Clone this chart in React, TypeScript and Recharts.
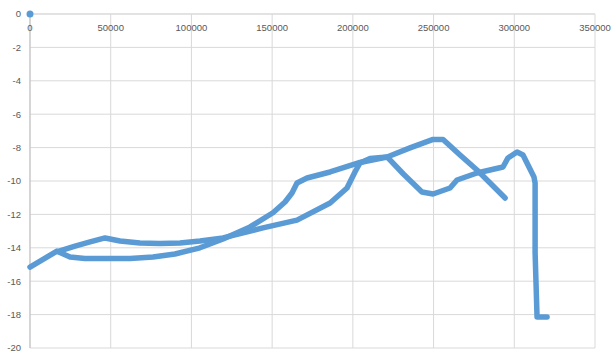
import React from 'react';
import { ScatterChart, Scatter, XAxis, YAxis, CartesianGrid } from 'recharts';

const xTicks = [0, 50000, 100000, 150000, 200000, 250000, 300000, 350000];
const yTicks = [0, -2, -4, -6, -8, -10, -12, -14, -16, -18, -20];

const originPoint = [{ x: 0, y: 0 }];

const pathLowerX = [0, 16700, 24800, 34000, 45200, 62000, 76200, 89800, 105300, 119600, 136300, 150500, 158000, 162300, 165400, 171600, 185900, 204400, 221200, 231300, 242800, 249700, 260200, 264500, 276900, 293000, 296100, 301700, 305400, 312200, 312900, 312900, 314100, 320300];
const pathLowerY = [-15.15, -14.2, -14.55, -14.64, -14.64, -14.64, -14.55, -14.37, -14.0, -13.47, -12.75, -11.9, -11.26, -10.72, -10.12, -9.82, -9.46, -8.89, -8.56, -9.58, -10.66, -10.78, -10.42, -9.94, -9.52, -9.16, -8.62, -8.26, -8.44, -9.76, -10.12, -14.3, -18.14, -18.14];

const pathUpperX = [18000, 27900, 37200, 46500, 55800, 68100, 80500, 92900, 105300, 119600, 144300, 165400, 185900, 196400, 201300, 204400, 210600, 221200, 235400, 249700, 255900, 266400, 276900, 285000, 294300];
const pathUpperY = [-14.2, -13.9, -13.65, -13.41, -13.59, -13.71, -13.74, -13.71, -13.59, -13.41, -12.81, -12.34, -11.32, -10.42, -9.46, -8.92, -8.65, -8.56, -8.02, -7.51, -7.51, -8.44, -9.34, -10.12, -11.02];

const toPoints = (xs: number[], ys: number[]) => xs.map((x, i) => ({ x, y: ys[i] }));
const lowerData = toPoints(pathLowerX, pathLowerY);
const upperData = toPoints(pathUpperX, pathUpperY);

const BLUE = '#5B9BD5';
const FONT = '"Liberation Sans", Arial, sans-serif';

const XTick = (props: any) => {
  const { x, y, payload } = props;
  return (
    <text x={x} y={y + 17} textAnchor="middle" fill="#595959" fontSize={9.5} fontFamily={FONT}>
      {payload.value}
    </text>
  );
};

const lineStyle = { stroke: BLUE, strokeWidth: 5.5, strokeLinejoin: 'round', strokeLinecap: 'round' } as any;

const NoShape = () => <g />;

export default function App() {
  return (
    <div style={{ position: 'absolute', left: 0, top: 0, width: 612, height: 353, background: '#fff' }}>
      <ScatterChart width={612} height={353} margin={{ top: 12, right: 17, bottom: 5, left: 0 }}>
        <CartesianGrid stroke="#d9d9d9" strokeWidth={1} />
        <XAxis
          type="number"
          dataKey="x"
          orientation="top"
          domain={[0, 350000]}
          ticks={xTicks}
          height={2}
          tickLine={false}
          tickSize={0}
          tickMargin={0}
          axisLine={{ stroke: '#d9d9d9' }}
          tick={XTick}
          interval={0}
        />
        <YAxis
          type="number"
          dataKey="y"
          domain={[-20, 0]}
          ticks={yTicks}
          width={30}
          tickLine={false}
          tickSize={6}
          tickMargin={3}
          axisLine={{ stroke: '#bfbfbf' }}
          tick={{ fill: '#595959', fontSize: 9.5, fontFamily: FONT }}
          interval={0}
        />
        <Scatter data={lowerData} line={lineStyle} lineType="joint" shape={<NoShape />} isAnimationActive={false} />
        <Scatter data={upperData} line={lineStyle} lineType="joint" shape={<NoShape />} isAnimationActive={false} />
        <Scatter data={originPoint} fill={BLUE} isAnimationActive={false} shape={(p: any) => <circle cx={p.cx} cy={p.cy} r={3.5} fill={BLUE} />} />
      </ScatterChart>
    </div>
  );
}
